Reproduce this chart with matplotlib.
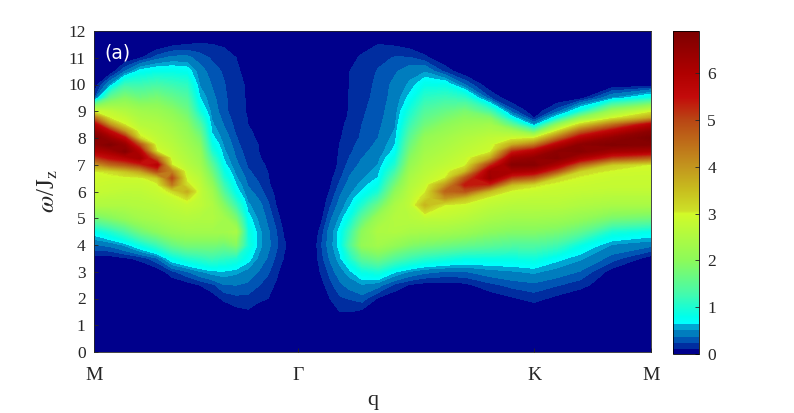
import numpy as np
import matplotlib
matplotlib.use("Agg")
import matplotlib.pyplot as plt
from matplotlib.colors import LinearSegmentedColormap, Normalize
from matplotlib.cm import ScalarMappable

# Energies of the matrix rows: coarse away from the bright ridge, finer across it
omega = [0,.5,1,1.5,2,2.5,3,3.5,4,4.5,5,
         5.5,5.75,6,6.25,6.5,6.75,7,7.25,7.5,7.75,8,8.25,8.5,8.75,9,
         9.5,10,10.5,11,11.5,12]
# Position of each column along the M-Gamma-K-M path
q_pos = [0,16,31,46,63,78,93,106,118,130,142,154,164,174,182,190,204,218,226,236,246,256,268,284,301,316,331,351,371,396,418,440,463,486,518,557]
# Intensity at each energy (one list per q column)
intensity = [
 [0,0,0,0,0,0,0,.05,.35,.75,1.7, 2.5,2.65,2.8,2.87,2.92,2.98,3.9,5.0,5.9,6.5,6.9,6.5,5.9,4.5,2.9, .2,0,0,0,0,0],
 [0,0,0,0,0,0,0,.05,.4,1.0,1.9, 2.5,2.6,2.75,2.82,2.9,3.1,4.5,5.5,6.2,6.8,6.3,5.5,4.0,2.95,2.7, 1.6,.5,0,0,0,0],
 [0,0,0,0,0,0,0,.1,.55,1.3,2.1, 2.5,2.6,2.7,2.8,2.9,3.4,4.8,5.8,6.7,6.4,5.5,4.0,3.0,2.75,2.5, 1.9,1.2,.35,0,0,0],
 [0,0,0,0,0,0,0,.15,.85,1.7,2.3, 2.55,2.62,2.7,2.8,2.9,3.8,5.2,6.2,5.8,4.8,3.1,2.8,2.6,2.45,2.3, 1.7,1.2,.7,.1,0,0],
 [0,0,0,0,0,0,.02,.35,1.2,2.0,2.4, 2.6,2.7,2.8,2.9,3.3,4.9,5.8,4.6,3.0,2.8,2.7,2.6,2.5,2.35,2.2, 1.8,1.3,.8,.3,0,0],
 [0,0,0,0,0,0,.2,.8,1.6,2.2,2.5, 2.7,2.8,3.1,4.3,4.9,4.2,3.0,2.8,2.7,2.6,2.5,2.4,2.3,2.15,2.0, 1.6,1.2,.8,.4,.08,0],
 [0,0,0,0,0,.05,.35,1.0,1.8,2.3,2.55, 2.8,3.1,3.7,3.1,2.9,2.75,2.6,2.5,2.4,2.3,2.2,2.1,2.0,1.85,1.7, 1.4,1.1,.75,.4,.12,0],
 [0,0,0,0,0,.12,.5,1.1,1.8,2.3,2.5, 2.7,2.72,2.75,2.7,2.6,2.45,2.3,2.2,2.1,1.95,1.8,1.6,1.4,1.15,.9, .65,.5,.42,.3,.13,0],
 [0,0,0,0,.05,.2,.6,1.2,1.8,2.3,2.5, 2.5,2.4,2.3,2.1,1.9,1.7,1.5,1.25,1.0,.85,.7,.62,.55,.5,.45, .4,.35,.3,.22,.12,0],
 [0,0,0,0,.15,.35,.62,1.1,1.7,2.3,2.3, 1.9,1.65,1.4,1.2,1.0,.85,.7,.62,.55,.5,.45,.4,.35,.31,.28, .27,.25,.22,.18,.1,0],
 [0,0,0,.07,.2,.36,.56,1.0,1.9,2.4,1.8, 1.2,.95,.75,.65,.55,.47,.4,.36,.32,.28,.25,.22,.2,.18,.16, .15,.14,.13,.12,.09,0],
 [0,0,0,.1,.2,.33,.46,.72,.95,.9,.72, .55,.47,.4,.35,.3,.26,.22,.19,.17,.15,.14,.13,.12,.115,.11, .11,.11,.1,.08,0,0],
 [0,0,0,.05,.15,.25,.36,.5,.6,.58,.5, .42,.36,.3,.26,.22,.19,.16,.145,.13,.12,.11,.105,.1,.095,.09, 0,0,0,0,0,0],
 [0,0,0,0,.12,.18,.26,.34,.4,.38,.32, .26,.22,.18,.15,.13,.115,.1,.05,0,0,0,0,0,0,0, 0,0,0,0,0,0],
 [0,0,0,0,0,.1,.16,.22,.27,.25,.19, .12,.1,.08,.04,0,0,0,0,0,0,0,0,0,0,0, 0,0,0,0,0,0],
 [0,0,0,0,0,0,.04,.11,.14,.1,.04, 0,0,0,0,0,0,0,0,0,0,0,0,0,0,0, 0,0,0,0,0,0],
 [0,0,0,0,0,0,0,0,0,0,0, 0,0,0,0,0,0,0,0,0,0,0,0,0,0,0, 0,0,0,0,0,0],
 [0,0,0,0,0,0,0,0,0,0,0, 0,0,0,0,0,0,0,0,0,0,0,0,0,0,0, 0,0,0,0,0,0],
 [0,0,0,0,0,.05,.12,.17,.2,.15,.05, 0,0,0,0,0,0,0,0,0,0,0,0,0,0,0, 0,0,0,0,0,0],
 [0,0,0,0,.12,.2,.28,.38,.44,.42,.32, .22,.17,.13,.1,.08,.04,0,0,0,0,0,0,0,0,0, 0,0,0,0,0,0],
 [0,0,0,.12,.22,.33,.45,.6,.72,.7,.55, .42,.37,.32,.27,.22,.19,.17,.155,.14,.125,.11,.1,.09,.04,0, 0,0,0,0,0,0],
 [0,0,0,.12,.25,.42,.6,1.0,1.4,1.2,.85, .62,.55,.48,.42,.38,.33,.28,.25,.22,.2,.18,.17,.16,.155,.15, .14,.13,.12,.08,0,0],
 [0,0,0,.08,.3,.5,.85,1.5,2.1,2.0,1.5, 1.0,.8,.65,.57,.5,.45,.4,.36,.32,.29,.26,.25,.24,.23,.22, .2,.18,.16,.14,.07,0],
 [0,0,0,0,.1,.42,.95,1.7,2.3,2.45,2.2, 1.6,1.25,.95,.78,.65,.58,.52,.47,.42,.39,.36,.34,.32,.31,.3, .28,.27,.25,.2,.12,0],
 [0,0,0,0,.02,.2,.66,1.4,2.1,2.5,2.55, 2.4,2.2,2.0,1.75,1.5,1.25,1.0,.85,.7,.64,.58,.54,.5,.47,.45, .42,.4,.34,.25,.1,0],
 [0,0,0,0,0,.1,.5,1.2,1.9,2.4,2.6, 2.7,2.65,2.6,2.5,2.4,2.25,2.1,1.95,1.8,1.65,1.5,1.35,1.2,1.07,.95, .7,.55,.45,.25,.05,0],
 [0,0,0,0,0,.06,.4,1.05,1.8,2.35,2.7, 3.6,3.2,2.95,2.8,2.7,2.6,2.5,2.4,2.3,2.2,2.1,1.9,1.7,1.55,1.4, 1.1,.8,.5,.15,0,0],
 [0,0,0,0,0,.05,.35,.95,1.7,2.3,2.7, 3.0,4.0,4.6,3.9,3.0,2.85,2.7,2.6,2.5,2.4,2.3,2.15,2.0,1.8,1.6, 1.2,.8,.2,0,0,0],
 [0,0,0,0,0,.08,.35,.85,1.6,2.2,2.6, 2.9,3.5,4.8,5.4,4.8,3.5,2.9,2.8,2.7,2.6,2.5,2.35,2.2,2.0,1.8, 1.1,.35,0,0,0,0],
 [0,0,0,0,.03,.2,.45,.85,1.5,2.0,2.4, 2.7,2.85,3.5,5.2,6.3,6.2,5.1,3.7,2.9,2.8,2.7,2.5,2.3,1.9,1.3, .25,0,0,0,0,0],
 [0,0,0,0,.1,.28,.5,.85,1.4,1.9,2.3, 2.6,2.75,2.9,3.5,5.0,6.1,6.7,6.2,5.2,3.7,2.85,2.3,1.5,.75,.3, 0,0,0,0,0,0],
 [0,0,0,0,.17,.32,.55,.9,1.4,1.9,2.3, 2.6,2.7,2.85,3.1,4.6,5.9,6.7,6.5,5.8,4.3,2.95,1.6,.5,.1,.02, 0,0,0,0,0,0],
 [0,0,0,0,.08,.25,.45,.7,1.25,1.8,2.25, 2.6,2.7,2.8,2.9,3.2,4.8,6.0,6.7,6.6,5.8,4.4,3.1,2.0,.8,.3, 0,0,0,0,0,0],
 [0,0,0,0,0,.17,.35,.55,.85,1.55,2.1, 2.5,2.62,2.75,2.85,2.95,3.2,4.6,6.0,6.7,6.6,5.8,4.6,3.2,2.0,.9, .05,0,0,0,0,0],
 [0,0,0,0,0,0,.06,.3,.5,.95,1.8, 2.4,2.55,2.7,2.8,2.85,2.95,3.3,5.0,6.2,6.8,6.5,5.7,4.4,2.9,2.2, .5,0,0,0,0,0],
 [0,0,0,0,0,0,0,.05,.4,.8,1.7, 2.4,2.55,2.7,2.8,2.85,2.9,2.98,4.6,6.0,6.7,6.9,6.6,5.8,3.8,2.9, .9,0,0,0,0,0],
]
q_ticks = [0, 204, 440, 557]
q_labels = ["M", "\u0393", "K", "M"]
omega_ticks = list(range(13))
cbar_ticks = [0, 1, 2, 3, 4, 5, 6]
vmax = 6.9

plt.rcParams["font.family"] = ["Liberation Serif", "DejaVu Serif"]
plt.rcParams["mathtext.fontset"] = "stix"

def c(r, g, b):
    return (r/255, g/255, b/255)

stops = [(0, c(0,0,140)), (.11, c(0,0,140)),
         (.11, c(0,45,160)), (.24, c(0,45,160)),
         (.24, c(0,85,180)), (.37, c(0,85,180)),
         (.37, c(0,125,190)), (.5, c(0,125,190)),
         (.5, c(0,165,210)), (.64, c(0,165,210)),
         (.64, c(0,255,255)), (.8, c(0,255,235)),
         (1.3, c(70,250,170)), (2.0, c(140,250,90)),
         (3.0, c(210,250,40)), (3.05, c(205,225,40)),
         (3.5, c(200,190,30)), (4.0, c(195,150,30)),
         (5.0, c(185,70,20)), (5.5, c(195,10,10)),
         (6.0, c(175,0,0)), (6.9, c(125,0,0))]
cmap = LinearSegmentedColormap.from_list("spec", [(v/vmax, col) for v, col in stops], N=1024)
norm = Normalize(0, vmax)

W, H = 794, 413
fig = plt.figure(figsize=(W/100, H/100), dpi=100)
ax = fig.add_axes([94/W, 1-352/H, (651-94)/W, (352-31)/H])
Z = np.array(intensity).T
levels = np.arange(0, 7.0, 0.04)
ax.contourf(q_pos, omega, Z, levels=levels, cmap=cmap, norm=norm, extend="both")
ax.set_xlim(0, 557)
ax.set_ylim(0, 12)
ax.set_xticks(q_ticks)
ax.set_xticklabels(q_labels)
ax.set_yticks(omega_ticks)
ax.tick_params(axis="both", direction="in", length=3, width=0.6, labelsize=12.5, colors="#262626", pad=6)
ax.tick_params(axis="x", pad=11, labelsize=14)
for s in ax.spines.values():
    s.set_linewidth(0.6)
    s.set_color("#262626")
ax.set_xlabel("q", fontsize=16, color="#262626", labelpad=5)
ax.set_ylabel(r"$\omega$/J$_{\rm z}$", fontsize=18, color="#262626", labelpad=6)
fig.text(104/W, 1-53/H, "(a)", color="white", family="DejaVu Sans", fontsize=13.5, va="center", ha="left")

cax = fig.add_axes([673/W, 1-354/H, 26/W, 323/H])
cb = fig.colorbar(ScalarMappable(norm=norm, cmap=cmap), cax=cax, ticks=cbar_ticks)
cb.ax.tick_params(direction="in", length=3, width=0.6, labelsize=12.5, colors="#262626", pad=6)
cb.outline.set_linewidth(0.6)
fig.savefig("out.png", dpi=100)
